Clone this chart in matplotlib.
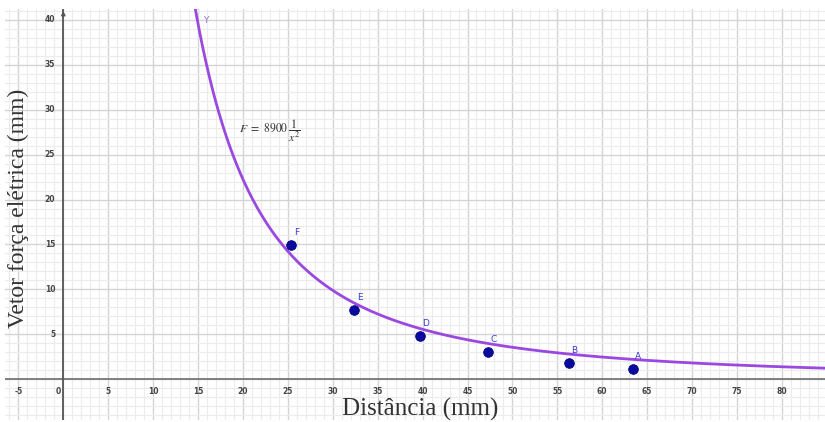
import numpy as np
import matplotlib
matplotlib.use("Agg")
import matplotlib.pyplot as plt
from matplotlib.ticker import MultipleLocator

plt.rcParams["mathtext.fontset"] = "stix"

# Data
point_names = ["F", "E", "D", "C", "B", "A"]
dist_mm = [25.4, 32.4, 39.7, 47.3, 56.3, 63.4]
force_mm = [14.9, 7.7, 4.8, 3.0, 1.8, 1.1]
k_const = 8900
x_ticks = [-5, 0, 5, 10, 15, 20, 25, 30, 35, 40, 45, 50, 55, 60, 65, 70, 75, 80]
y_ticks = [5, 10, 15, 20, 25, 30, 35, 40]

W, H = 825, 422
fig = plt.figure(figsize=(W / 100, H / 100), dpi=100)
left, right, top, bottom = 5, 825, 9, 420
ax = fig.add_axes([left / W, 1 - bottom / H, (right - left) / W, (bottom - top) / H])

xmin, xmax = -6.49, 84.8
ymin, ymax = -4.53, 41.2
ax.set_xlim(xmin, xmax)
ax.set_ylim(ymin, ymax)

# grid
ax.xaxis.set_major_locator(MultipleLocator(5))
ax.yaxis.set_major_locator(MultipleLocator(5))
ax.xaxis.set_minor_locator(MultipleLocator(1))
ax.yaxis.set_minor_locator(MultipleLocator(1))
ax.grid(which="major", color="#d4d4d4", linewidth=1.0)
ax.grid(which="minor", color="#ececec", linewidth=0.8)
ax.set_axisbelow(True)
ax.tick_params(which="both", length=0, labelbottom=False, labelleft=False)
for s in ax.spines.values():
    s.set_visible(False)

# axes lines
ax.axhline(0, color="#777777", linewidth=1.3, zorder=2)
ax.axvline(0, color="#555555", linewidth=1.3, zorder=2)
ax.annotate("", xy=(0, ymax + 0.1), xytext=(0, ymax - 1.0),
            arrowprops=dict(arrowstyle="-|>", color="#555555", lw=1.0, mutation_scale=6),
            zorder=3, annotation_clip=False)

# tick labels
for t in x_ticks:
    xx = t - 0.6 if t == 0 else t
    ax.text(xx, -0.9, str(t), ha="center", va="top", fontsize=5.5,
            color="#444444", fontweight="bold")
for t in y_ticks:
    ax.text(-0.9, t, str(t), ha="right", va="center", fontsize=5.5,
            color="#444444", fontweight="bold")

# curve
xs = np.linspace(14.0, xmax, 600)
ax.plot(xs, k_const / xs ** 2, color="#9b48e0", linewidth=2.0, zorder=4)
ax.text(15.9, 39.9, "Y", color="#9a6fe0", fontsize=6.5, ha="center", va="center", zorder=5)

# formula
ax.text(19.6, 27.7, r"$F\ =\ 8900\,\dfrac{1}{x^2}$", fontsize=8.5, color="#333333",
        va="center", ha="left", zorder=5)

# points
ax.scatter(dist_mm, force_mm, s=48, color="#0a0aa0", edgecolor="#00007a",
           linewidth=0.6, zorder=6)
for n, xv, yv in zip(point_names, dist_mm, force_mm):
    ax.text(xv + 0.6, yv + 0.9, n, color="#3a3ad0", fontsize=6.5,
            ha="center", va="bottom", zorder=6)

# axis labels
fig.text(18 / W, 1 - 208 / H, "Vetor força elétrica (mm)", rotation=90,
         ha="center", va="center", fontsize=17, family="Liberation Serif",
         color="#333333")
fig.text(420 / W, 1 - 409 / H, "Distância (mm)", ha="center", va="center",
         fontsize=18, family="Liberation Serif", color="#333333")

fig.savefig("out.png", dpi=100)
